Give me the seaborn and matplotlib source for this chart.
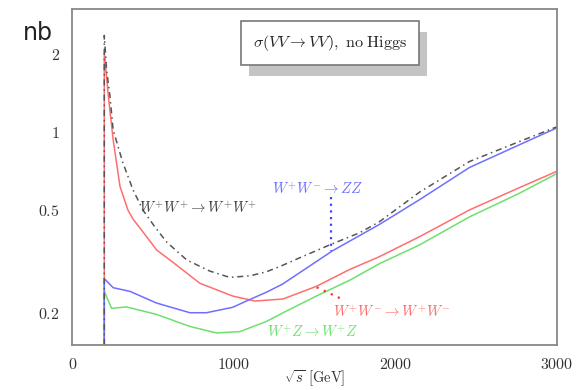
import numpy as np
import pandas as pd
import matplotlib
matplotlib.use("Agg")
import matplotlib.pyplot as plt
import matplotlib.patheffects as pe
from matplotlib.ticker import FixedLocator, FixedFormatter, NullLocator
import seaborn as sns

# ---- data ----
x_wpwp = [197, 197, 211, 232, 252, 312, 374, 436, 510, 584, 708, 850, 974, 1100, 1200, 1300, 1400, 1592, 1778, 1900, 2149, 2458, 2767, 3000]
y_wpwp = [0.01, 2.37, 1.75, 1.38, 1.02, 0.762, 0.60, 0.50, 0.43, 0.375, 0.32, 0.29, 0.274, 0.278, 0.288, 0.305, 0.325, 0.366, 0.408, 0.45, 0.586, 0.77, 0.92, 1.05]

x_wwww = [197, 197, 222, 252, 294, 343, 376, 459, 521, 624, 789, 993, 1130, 1303, 1510, 1716, 1902, 2149, 2458, 2767, 3000]
y_wwww = [0.01, 2.03, 1.38, 0.935, 0.618, 0.5, 0.46, 0.394, 0.35, 0.313, 0.26, 0.232, 0.222, 0.226, 0.253, 0.294, 0.33, 0.394, 0.5, 0.61, 0.706]

x_wwzz = [197, 197, 252, 356, 521, 727, 830, 993, 1077, 1200, 1300, 1612, 1902, 2149, 2458, 2767, 3000]
y_wwzz = [0.01, 0.271, 0.25, 0.242, 0.218, 0.2, 0.2, 0.21, 0.222, 0.24, 0.258, 0.348, 0.44, 0.548, 0.73, 0.894, 1.04]

x_wzwz = [197, 197, 242, 335, 521, 727, 892, 1036, 1201, 1304, 1510, 1716, 1902, 2149, 2458, 2767, 3000]
y_wzwz = [0.01, 0.242, 0.208, 0.2106, 0.197, 0.177, 0.167, 0.169, 0.185, 0.2, 0.232, 0.267, 0.31, 0.366, 0.47, 0.58, 0.692]

x_ticks = [0, 1000, 2000, 3000]
y_ticks = [0.2, 0.5, 1, 2]
y_tick_labels = ["0.2", "0.5", "1", "2"]

labels = {
    "wpwp": r"$W^{+}W^{+}\rightarrow W^{+}W^{+}$",
    "wwzz": r"$W^{+}W^{-}\rightarrow ZZ$",
    "wwww": r"$W^{+}W^{-}\rightarrow W^{+}W^{-}$",
    "wzwz": r"$W^{+}Z\rightarrow W^{+}Z$",
}

# ---- style ----
sns.set_style("white")
plt.rcParams["mathtext.fontset"] = "cm"
plt.rcParams["font.family"] = ["DejaVu Sans"]

RED = "#ff6e6e"
BLUE = "#6f6fff"
GREEN = "#6ee06e"
GRAY = "#555555"

fig = plt.figure(figsize=(5.77, 3.90), dpi=100)
ax = fig.add_axes([0.1256, 0.1154, 0.8397, 0.8615])

def draw(xs, ys, color, **kw):
    df = pd.DataFrame({"x": xs, "y": ys})
    sns.lineplot(data=df, x="x", y="y", ax=ax, color=color, sort=False,
                 estimator=None, linewidth=1.1, **kw)

draw(x_wwww, y_wwww, RED)
draw(x_wzwz, y_wzwz, GREEN)
draw(x_wwzz, y_wwzz, BLUE)
draw(x_wpwp, y_wpwp, GRAY, linestyle=(0, (4, 2.5, 1, 2.5)))

ax.set_yscale("log")
ax.set_xlim(0, 3000)
ax.set_ylim(0.15, 3.0)
ax.xaxis.set_major_locator(FixedLocator(x_ticks))
ax.xaxis.set_major_formatter(FixedFormatter([f"${t}$" for t in x_ticks]))
ax.yaxis.set_major_locator(FixedLocator(y_ticks))
ax.yaxis.set_major_formatter(FixedFormatter([f"${t}$" for t in y_tick_labels]))
ax.yaxis.set_minor_locator(NullLocator())
ax.xaxis.set_minor_locator(NullLocator())
ax.tick_params(axis="both", which="major", direction="out", length=6, width=1.1,
               color="#777777", labelsize=11.5, labelcolor="#333333", pad=3)
for s in ax.spines.values():
    s.set_color("#888888")
    s.set_linewidth(1.3)
ax.set_xlabel(r"$\sqrt{s}\ [\mathrm{GeV}]$", fontsize=10.5, color="#333333", labelpad=-3)
ax.set_ylabel("")

# annotations
ax.text(780, 0.51, labels["wpwp"], color="#444444", fontsize=10.5, ha="center", va="center")
ax.text(1515, 0.60, labels["wwzz"], color=BLUE, fontsize=10.5, ha="center", va="center")
ax.text(1979, 0.201, labels["wwww"], color=RED, fontsize=10.5, ha="center", va="center")
ax.text(1484, 0.169, labels["wzwz"], color=GREEN, fontsize=10.5, ha="center", va="center")
ax.plot([1599, 1599], [0.56, 0.347], color="#4444ff", linestyle=(0, (1, 2)), linewidth=1.6)
ax.plot([1512, 1674], [0.251, 0.225], color="#ff3333", linestyle=(0, (1, 2.5)), linewidth=1.6)

# title box with shadow
t = ax.text(0.531, 0.900, r"$\sigma(VV\rightarrow VV),\ \mathrm{no\ Higgs}$",
            transform=ax.transAxes, ha="center", va="center", fontsize=11.5, color="#222222",
            bbox=dict(boxstyle="square,pad=0.75", facecolor="white", edgecolor="#777777", linewidth=1.2))
t.get_bbox_patch().set_path_effects([
    pe.SimplePatchShadow(offset=(6, -8), shadow_rgbFace="#c4c4c4", alpha=1.0),
    pe.Normal(),
])

# unit label
fig.text(0.040, 0.915, "nb", fontsize=17, color="#222222", ha="left", va="center")

fig.savefig("out.png", dpi=100)
